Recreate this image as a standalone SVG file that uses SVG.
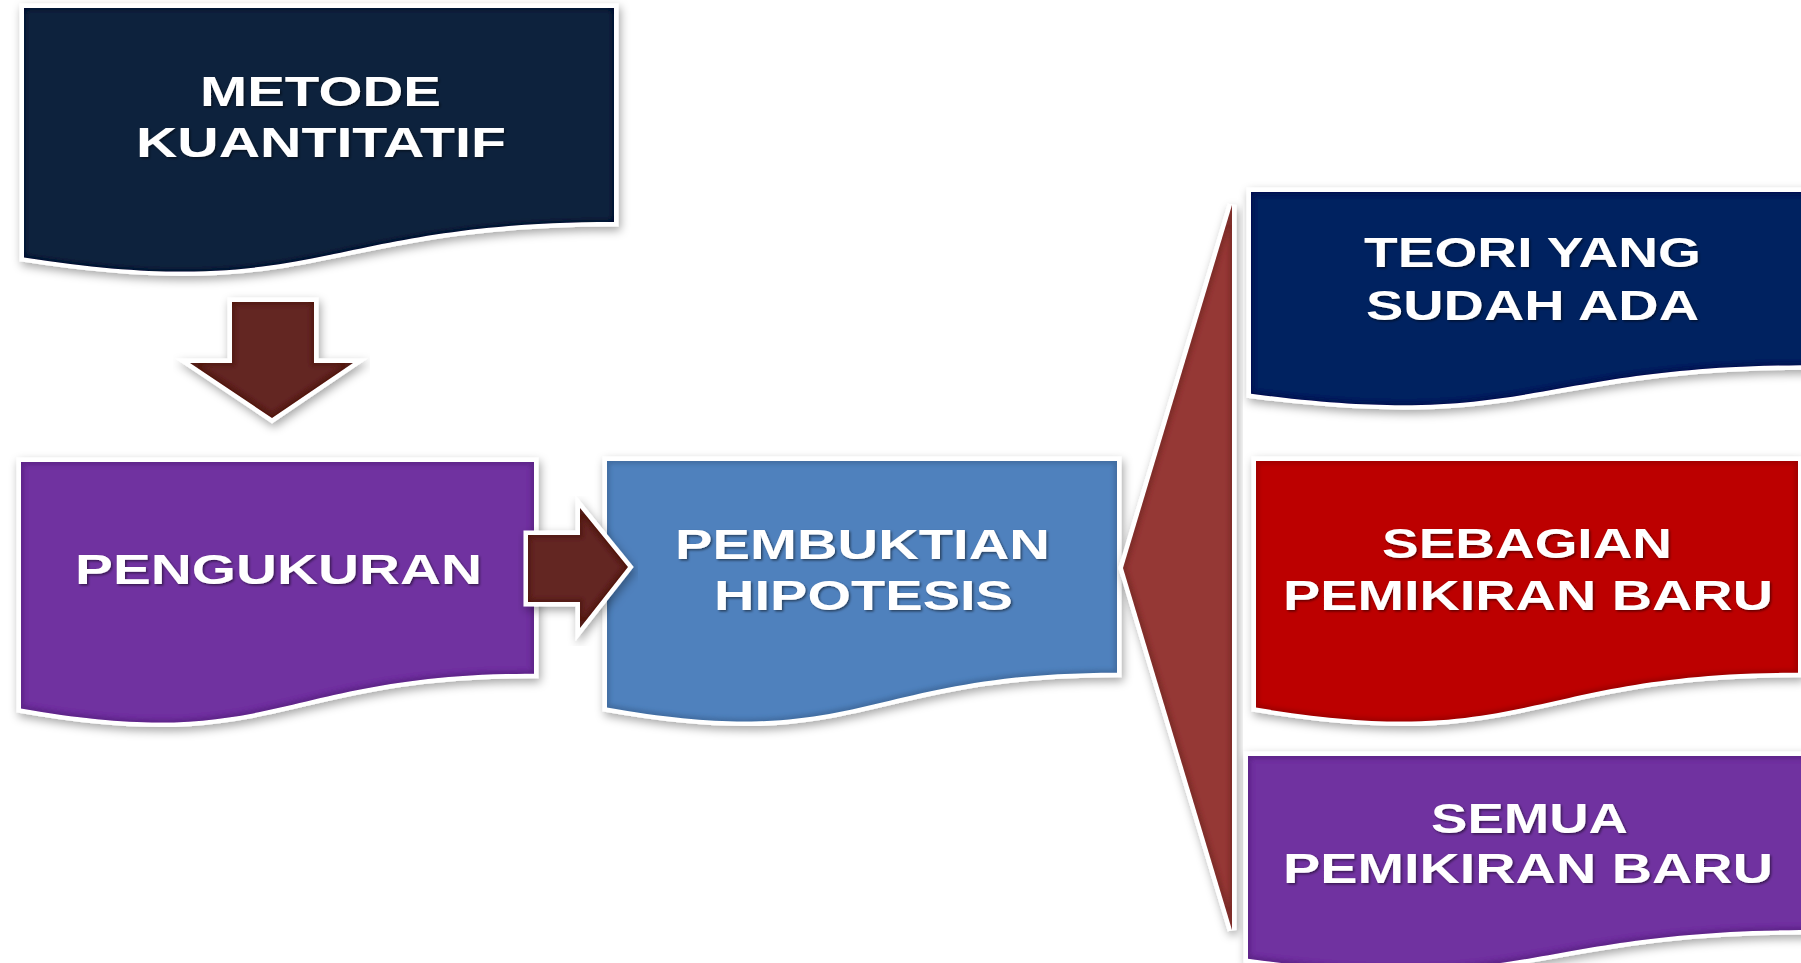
<svg xmlns="http://www.w3.org/2000/svg" xmlns:xlink="http://www.w3.org/1999/xlink" width="1801" height="963" viewBox="0 0 1801 963">
<style>
.outline{fill:#ffffff;stroke:#ffffff;stroke-width:9;stroke-linejoin:miter;filter:url(#shadow)}
.body{filter:url(#bevel)}
.lbl{font-family:"Liberation Sans",Arial,Helvetica,sans-serif;font-weight:bold;font-size:42px;fill:#ffffff;filter:url(#tshadow)}
.navy{fill:#10243E}
.purple{fill:#7030A0}
.blue{fill:#4F81BD}
.dblue{fill:#002060}
.red{fill:#BC0000}
.maroon{fill:#632523}
.brick{fill:#953735}
</style>
<defs>
<filter id="shadow" x="-10%" y="-10%" width="120%" height="125%">
<feDropShadow dx="2" dy="4" stdDeviation="5" flood-color="#000000" flood-opacity="0.35"/>
</filter>
<filter id="bevel" x="-5%" y="-5%" width="110%" height="110%">
<feMorphology in="SourceAlpha" operator="erode" radius="3" result="er"/>
<feGaussianBlur in="er" stdDeviation="2" result="bl"/>
<feComponentTransfer in="SourceGraphic" result="dark">
<feFuncR type="linear" slope="0.7"/>
<feFuncG type="linear" slope="0.7"/>
<feFuncB type="linear" slope="0.7"/>
</feComponentTransfer>
<feComposite in="SourceGraphic" in2="bl" operator="in" result="core"/>
<feMerge><feMergeNode in="dark"/><feMergeNode in="core"/></feMerge>
</filter>
<filter id="tshadow" x="-5%" y="-20%" width="110%" height="140%">
<feDropShadow dx="1.5" dy="1.5" stdDeviation="1" flood-color="#000000" flood-opacity="0.5"/>
</filter>
<path id="s-metode" d="M24,8 H614 V222 C319,222 319,303.6 24,257.4 Z"/>
<path id="s-pengukuran" d="M21,462 H534 V673.7 C277.5,673.7 277.5,754.2 21,708.6 Z"/>
<path id="s-pembuktian" d="M607,461 H1117 V672.7 C862,672.7 862,753.2 607,707.6 Z"/>
<path id="s-teori" d="M1251,192 H1813 V365.2 C1532,365.2 1532,431.1 1251,393.7 Z"/>
<path id="s-sebagian" d="M1256,461 H1798 V672.7 C1527,672.7 1527,753.2 1256,707.6 Z"/>
<path id="s-semua" d="M1248,756 H1810 V930 C1529,930 1529,996.2 1248,958.7 Z"/>
<path id="s-down" d="M232,302 H314 V363 H353 L272,418 L190,363 H232 Z"/>
<path id="s-right" d="M528,535 H580 V508 L628,567 L580,628 V602 H528 Z"/>
<path id="s-fan" d="M1232,205 L1123,568 L1232,930 Z"/>
</defs>
<rect width="1801" height="963" fill="#ffffff"/>

<g id="metode">
<use href="#s-metode" class="outline"/>
<use href="#s-metode" class="body navy"/>
<text class="lbl" x="200" y="106" textLength="241" lengthAdjust="spacingAndGlyphs">METODE</text>
<text class="lbl" x="136" y="157" textLength="370" lengthAdjust="spacingAndGlyphs">KUANTITATIF</text>
</g>

<g id="pengukuran">
<use href="#s-pengukuran" class="outline"/>
<use href="#s-pengukuran" class="body purple"/>
<text class="lbl" x="75" y="584" textLength="407" lengthAdjust="spacingAndGlyphs">PENGUKURAN</text>
</g>

<g id="pembuktian">
<use href="#s-pembuktian" class="outline"/>
<use href="#s-pembuktian" class="body blue"/>
<text class="lbl" x="675" y="559" textLength="375" lengthAdjust="spacingAndGlyphs">PEMBUKTIAN</text>
<text class="lbl" x="714" y="610" textLength="299" lengthAdjust="spacingAndGlyphs">HIPOTESIS</text>
</g>

<g id="teori">
<use href="#s-teori" class="outline"/>
<use href="#s-teori" class="body dblue"/>
<text class="lbl" x="1364" y="267" textLength="337" lengthAdjust="spacingAndGlyphs">TEORI YANG</text>
<text class="lbl" x="1366" y="320" textLength="333" lengthAdjust="spacingAndGlyphs">SUDAH ADA</text>
</g>

<g id="sebagian">
<use href="#s-sebagian" class="outline"/>
<use href="#s-sebagian" class="body red"/>
<text class="lbl" x="1382" y="558" textLength="290" lengthAdjust="spacingAndGlyphs">SEBAGIAN</text>
<text class="lbl" x="1283" y="610" textLength="490" lengthAdjust="spacingAndGlyphs">PEMIKIRAN BARU</text>
</g>

<g id="semua">
<use href="#s-semua" class="outline"/>
<use href="#s-semua" class="body purple"/>
<text class="lbl" x="1431" y="833" textLength="197" lengthAdjust="spacingAndGlyphs">SEMUA</text>
<text class="lbl" x="1283" y="883" textLength="490" lengthAdjust="spacingAndGlyphs">PEMIKIRAN BARU</text>
</g>

<g id="connectors">
<use href="#s-down" class="outline"/>
<use href="#s-down" class="body maroon"/>
<use href="#s-right" class="outline"/>
<use href="#s-right" class="body maroon"/>
<use href="#s-fan" class="outline"/>
<use href="#s-fan" class="body brick"/>
</g>
</svg>
